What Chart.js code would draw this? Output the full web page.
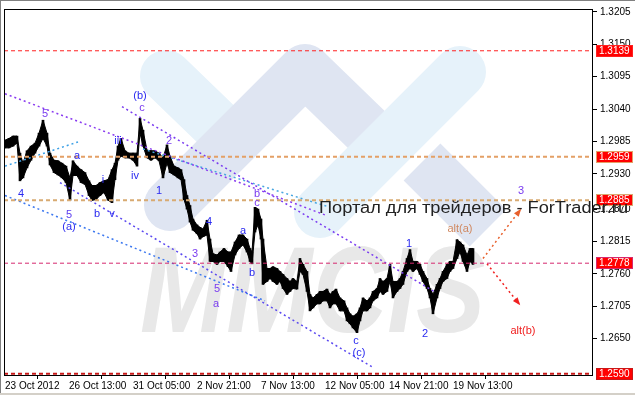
<!DOCTYPE html>
<html>
<head>
<meta charset="utf-8">
<script src="https://cdn.jsdelivr.net/npm/chart.js@4/dist/chart.umd.min.js"></script>
<style>
  html, body { margin: 0; padding: 0; background: #fff; }
  #wrap { width: 635px; height: 395px; position: relative; }
</style>
</head>
<body>
<div id="wrap"><canvas id="chart" width="635" height="395"></canvas></div>
<script>
// hourly bars (hour index from 23 Oct 2012)
const hours = [0,4,8,12,15,18,22,26,30,34,38,42,45,49,53,57,61,65,68,72,
  76,80,84,87,91,95,99,103,107,110,113,116,120,124,128,132,135,138,142,146,
  150,154,158,162,165,169,173,176,179,182,185,188,192,195,198,202,205,208,212,215,
  219,223,226,230,234,238,242,245,247,250,253,256,258,262,265,268,272,275,278,282,
  285,288,292,295,298,302,305,308,312,315,318,322,325,328,331,335,339,342,345,348,
  352,355,358,362,365,368,372,375,378,382,385,388,392,395,398,402,405,408,412,415,
  418,422,425,428,432,435,438,442,445,448,452,455,458,462,465,468];
const highs = [1.2987,1.2990,1.2994,1.2994,1.2965,1.2948,1.2969,1.2977,1.2982,1.2999,
  1.3021,1.2999,1.2965,1.2953,1.2952,1.2948,1.2943,1.2923,1.2952,1.2943,
  1.2937,1.2932,1.2918,1.2910,1.2910,1.2915,1.2918,1.2920,1.2937,1.2948,
  1.2977,1.2990,1.2969,1.2965,1.2965,1.2965,1.3024,1.3004,1.2970,1.2969,
  1.2969,1.2965,1.2957,1.2979,1.2960,1.2943,1.2940,1.2937,1.2920,1.2893,
  1.2876,1.2853,1.2843,1.2839,1.2836,1.2851,1.2819,1.2794,1.2792,1.2797,
  1.2803,1.2797,1.2797,1.2814,1.2826,1.2826,1.2819,1.2803,1.2797,1.2873,
  1.2870,1.2853,1.2819,1.2769,1.2769,1.2772,1.2769,1.2764,1.2759,1.2752,
  1.2747,1.2752,1.2747,1.2786,1.2776,1.2764,1.2725,1.2719,1.2725,1.2730,
  1.2730,1.2734,1.2725,1.2730,1.2734,1.2719,1.2714,1.2702,1.2692,1.2688,
  1.2692,1.2702,1.2719,1.2714,1.2719,1.2730,1.2735,1.2752,1.2747,1.2752,
  1.2776,1.2747,1.2747,1.2752,1.2764,1.2786,1.2801,1.2781,1.2781,1.2776,
  1.2764,1.2752,1.2735,1.2725,1.2742,1.2752,1.2764,1.2776,1.2781,1.2781,
  1.2818,1.2814,1.2809,1.2792,1.2803,1.2803];
const lows = [1.2974,1.2974,1.2977,1.2982,1.2918,1.2923,1.2940,1.2953,1.2965,1.2977,
  1.2990,1.2977,1.2945,1.2932,1.2928,1.2923,1.2915,1.2885,1.2927,1.2927,
  1.2915,1.2912,1.2893,1.2885,1.2886,1.2893,1.2898,1.2885,1.2881,1.2920,
  1.2953,1.2960,1.2957,1.2957,1.2953,1.2943,1.2999,1.2977,1.2957,1.2953,
  1.2957,1.2952,1.2923,1.2948,1.2932,1.2928,1.2923,1.2920,1.2886,1.2870,
  1.2848,1.2834,1.2828,1.2819,1.2823,1.2826,1.2781,1.2781,1.2776,1.2781,
  1.2781,1.2772,1.2764,1.2792,1.2803,1.2809,1.2797,1.2781,1.2777,1.2831,
  1.2843,1.2819,1.2742,1.2747,1.2752,1.2747,1.2742,1.2747,1.2735,1.2725,
  1.2730,1.2735,1.2734,1.2764,1.2759,1.2730,1.2697,1.2702,1.2709,1.2709,
  1.2714,1.2714,1.2702,1.2709,1.2709,1.2697,1.2697,1.2680,1.2675,1.2668,
  1.2660,1.2680,1.2697,1.2697,1.2702,1.2714,1.2719,1.2730,1.2725,1.2730,
  1.2747,1.2719,1.2730,1.2735,1.2742,1.2764,1.2769,1.2764,1.2769,1.2759,
  1.2747,1.2735,1.2719,1.2692,1.2719,1.2735,1.2747,1.2752,1.2764,1.2769,
  1.2786,1.2797,1.2781,1.2764,1.2781,1.2776];

// axis
const xTickHours = [0, 64, 128, 192, 256, 320, 384, 448];
const xTickLabels = ['23 Oct 2012', '26 Oct 13:00', '31 Oct 05:00', '2 Nov 21:00',
  '7 Nov 13:00', '12 Nov 05:00', '14 Nov 21:00', '19 Nov 13:00'];
const yTicks = [1.3205, 1.3150, 1.3095, 1.3040, 1.2985, 1.2930, 1.2870, 1.2815, 1.2760, 1.2705, 1.2650];

// horizontal levels
const levels = [1.3139, 1.2959, 1.2885, 1.2778, 1.2590];
const levelColors = ['#ff2020', '#e4a066', '#d8aa72', '#d6286e', '#c81818'];
const levelWidths = [1, 2, 2, 1, 2];

// wave trend lines: [hourStart, priceStart, hourEnd, priceEnd]
const trendLines = [
  [0, 1.3066, 320, 1.2860],
  [117, 1.3044, 430, 1.2729],
  [0, 1.2943, 73, 1.2984],
  [138, 1.2972, 325, 1.2873],
  [0, 1.2893, 260, 1.2714],
  [55, 1.2915, 368, 1.2601]
];
const trendColors = ['#8a3cf0', '#7a3cf0', '#3ca0e6', '#48a6e0', '#3c78f0', '#5a48f0'];

// projection arrows
const arrows = [
  [478, 1.2786, 515, 1.2868],
  [482, 1.2777, 514, 1.2709]
];
const arrowColors = ['#e8602c', '#f02020'];

// wave labels
const waveText = ['(b)', 'c', '5', 'iii', '2', 'a', 'iv', '1', '4', 'i', 'b', 'c',
  '5', '(a)', 'b', 'v', '4', 'a', '3', 'b', '5', 'a', '1', 'alt(a)', '2', 'c', '(c)', '3', 'alt(b)'];
const waveHour = [135, 137, 40, 113, 164, 72, 130, 154, 16, 98, 252, 252,
  64, 64, 92, 107, 204, 238, 190, 247, 212, 211, 404, 455, 420, 351, 354, 516, 518];
const wavePrice = [1.3062, 1.3042, 1.3032, 1.2985, 1.2985, 1.2960, 1.2927, 1.2901, 1.2895, 1.2920, 1.2896, 1.2881,
  1.2860, 1.2839, 1.2861, 1.2861, 1.2848, 1.2833, 1.2794, 1.2761, 1.2735, 1.2709, 1.2811, 1.2836, 1.2658, 1.2645, 1.2625, 1.2901, 1.2663];
const waveColor = ['#2a2af0', '#7a3cf0', '#7a3cf0', '#2a2af0', '#7a3cf0', '#2a2af0', '#2a2af0', '#2a2af0', '#2a2af0', '#2a2af0', '#7a3cf0', '#7a3cf0',
  '#5a3cf0', '#2a2af0', '#2a2af0', '#2a2af0', '#2a2af0', '#2a2af0', '#7a3cf0', '#2a2af0', '#7a3cf0', '#7a3cf0', '#2a2af0', '#d08860', '#2a2af0', '#2a2af0', '#2a2af0', '#7a3cf0', '#f02020'];

const X_MIN = -1, X_MAX = 588;

const datasets = [];
levels.forEach((v, i) => {
  datasets.push({
    type: 'line', data: [{x: X_MIN, y: v}, {x: X_MAX, y: v}],
    borderColor: levelColors[i], borderWidth: levelWidths[i], borderDash: [4, 3],
    pointRadius: 0, fill: false
  });
});
trendLines.forEach((l, i) => {
  datasets.push({
    type: 'line', data: [{x: l[0], y: l[1]}, {x: l[2], y: l[3]}],
    borderColor: trendColors[i], borderWidth: 1.5, borderDash: [2, 3],
    pointRadius: 0, fill: false
  });
});
arrows.forEach((l, i) => {
  datasets.push({
    type: 'line', data: [{x: l[0], y: l[1]}, {x: l[2], y: l[3]}],
    borderColor: arrowColors[i], borderWidth: 1.5, borderDash: [2, 3],
    pointRadius: 0, fill: false
  });
});
datasets.push({
  type: 'line', data: hours.map((h, i) => ({x: h, y: highs[i]})),
  borderColor: '#000', borderWidth: 1, pointRadius: 0, tension: 0, fill: false
});
datasets.push({
  type: 'line', data: hours.map((h, i) => ({x: h, y: lows[i]})),
  borderColor: '#000', borderWidth: 1, pointRadius: 0, tension: 0,
  fill: '-1', backgroundColor: '#000'
});
datasets.push({
  type: 'bar', data: hours.map((h, i) => ({x: h, y: [lows[i], highs[i]]})),
  backgroundColor: '#000', barThickness: 2
});

// background logo watermark
const watermark = {
  id: 'watermark',
  beforeDatasetsDraw(chart) {
    const ctx = chart.ctx, a = chart.chartArea;
    ctx.save();
    ctx.beginPath();
    ctx.rect(a.left, a.top, a.right - a.left, a.bottom - a.top);
    ctx.clip();
    ctx.lineWidth = 52;
    function stroke(color, x1, y1, x2, y2, cap) {
      ctx.strokeStyle = color;
      ctx.lineCap = cap;
      ctx.beginPath(); ctx.moveTo(x1, y1); ctx.lineTo(x2, y2); ctx.stroke();
    }
    stroke('#e6f2fa', 166, 76, 226, 134, 'round');
    stroke('#dfe5f2', 305, 70, 170, 205, 'round');
    stroke('#dfe5f2', 305, 70, 372, 135, 'butt');
    stroke('#e6f2fa', 460, 72, 320, 212, 'round');
    stroke('#dfe5f2', 422, 162, 488, 228, 'butt');
    // MMCIS letters
    ctx.fillStyle = '#e8e8e8';
    ctx.font = 'italic bold 110px "Liberation Sans"';
    const w = ctx.measureText('MMCIS').width;
    ctx.translate(140, 332);
    ctx.scale(345 / w, 1.12);
    ctx.textBaseline = 'alphabetic';
    ctx.fillText('MMCIS', 0, 0);
    ctx.restore();
  }
};

const overlay = {
  id: 'overlay',
  afterDatasetsDraw(chart) {
    const ctx = chart.ctx, xs = chart.scales.x, ys = chart.scales.y;
    ctx.save();
    // arrow heads
    arrows.forEach((l, i) => {
      const x1 = xs.getPixelForValue(l[0]), y1 = ys.getPixelForValue(l[1]);
      const x2 = xs.getPixelForValue(l[2]), y2 = ys.getPixelForValue(l[3]);
      const ang = Math.atan2(y2 - y1, x2 - x1);
      ctx.fillStyle = arrowColors[i];
      ctx.beginPath();
      ctx.moveTo(x2 + 2 * Math.cos(ang), y2 + 2 * Math.sin(ang));
      ctx.lineTo(x2 - 6 * Math.cos(ang) + 3 * Math.sin(ang), y2 - 6 * Math.sin(ang) - 3 * Math.cos(ang));
      ctx.lineTo(x2 - 6 * Math.cos(ang) - 3 * Math.sin(ang), y2 - 6 * Math.sin(ang) + 3 * Math.cos(ang));
      ctx.closePath();
      ctx.fill();
    });
    // wave labels
    ctx.font = '11px "Liberation Sans"';
    ctx.textAlign = 'center';
    ctx.textBaseline = 'middle';
    waveText.forEach((t, i) => {
      ctx.fillStyle = waveColor[i];
      ctx.fillText(t, xs.getPixelForValue(waveHour[i]), ys.getPixelForValue(wavePrice[i]));
    });
    ctx.restore();
  },
  afterDraw(chart) {
    const ctx = chart.ctx, a = chart.chartArea, ys = chart.scales.y;
    ctx.save();
    // plot frame
    ctx.strokeStyle = '#000';
    ctx.lineWidth = 1;
    ctx.strokeRect(a.left + 0.5, a.top + 0.5, a.right - a.left - 1, a.bottom - a.top);
    // window edge
    ctx.fillStyle = '#808080';
    ctx.fillRect(0, 0, 1, 395);
    ctx.fillRect(0, 0, 635, 1);
    ctx.fillStyle = '#d4d0c8';
    ctx.fillRect(0, 393, 635, 2);
    // level boxes
    ctx.font = '10px "Liberation Sans"';
    ctx.textAlign = 'left';
    ctx.textBaseline = 'middle';
    levels.forEach((v, i) => {
      const y = Math.round(ys.getPixelForValue(v));
      ctx.fillStyle = '#ff0000';
      ctx.fillRect(596, y - 6, 37, 12);
      ctx.strokeStyle = levelColors[i];
      ctx.strokeRect(596.5, y - 5.5, 36, 11);
      ctx.fillStyle = '#fff';
      ctx.fillText(v.toFixed(4), 599, y + 0.5);
    });
    // site caption
    ctx.fillStyle = '#222';
    ctx.font = '16px "Liberation Sans"';
    ctx.textBaseline = 'alphabetic';
    const cap = 'Портал для трейдеров - ForTrader.ru';
    const w = ctx.measureText(cap).width;
    ctx.translate(319, 213);
    ctx.scale(309 / w, 1);
    ctx.fillText(cap, 0, 0);
    ctx.restore();
  }
};

new Chart(document.getElementById('chart'), {
  type: 'bar',
  data: { datasets: datasets },
  options: {
    responsive: false,
    animation: false,
    layout: { padding: { left: 4, top: 4, right: 0, bottom: 0 } },
    plugins: { legend: { display: false }, tooltip: { enabled: false } },
    scales: {
      x: {
        type: 'linear', min: X_MIN, max: X_MAX, offset: false,
        border: { display: false },
        grid: { drawOnChartArea: false, tickLength: 4, color: '#000' },
        afterBuildTicks: s => { s.ticks = xTickHours.map(v => ({ value: v })); },
        afterFit: s => { s.height = 20; },
        ticks: {
          autoSkip: false, maxRotation: 0, align: 'start', padding: 1,
          color: '#000', font: { family: 'Liberation Sans', size: 10 },
          callback: v => xTickLabels[xTickHours.indexOf(v)]
        }
      },
      y: {
        position: 'right', min: 1.2588, max: 1.3210,
        border: { display: false },
        grid: { drawOnChartArea: false, tickLength: 4, color: '#000' },
        afterBuildTicks: s => { s.ticks = yTicks.map(v => ({ value: v })); },
        afterFit: s => { s.width = 42; },
        ticks: {
          autoSkip: false, padding: 3, color: '#000',
          font: { family: 'Liberation Sans', size: 10 },
          callback: v => Number(v).toFixed(4)
        }
      }
    }
  },
  plugins: [watermark, overlay]
});
</script>
</body>
</html>
